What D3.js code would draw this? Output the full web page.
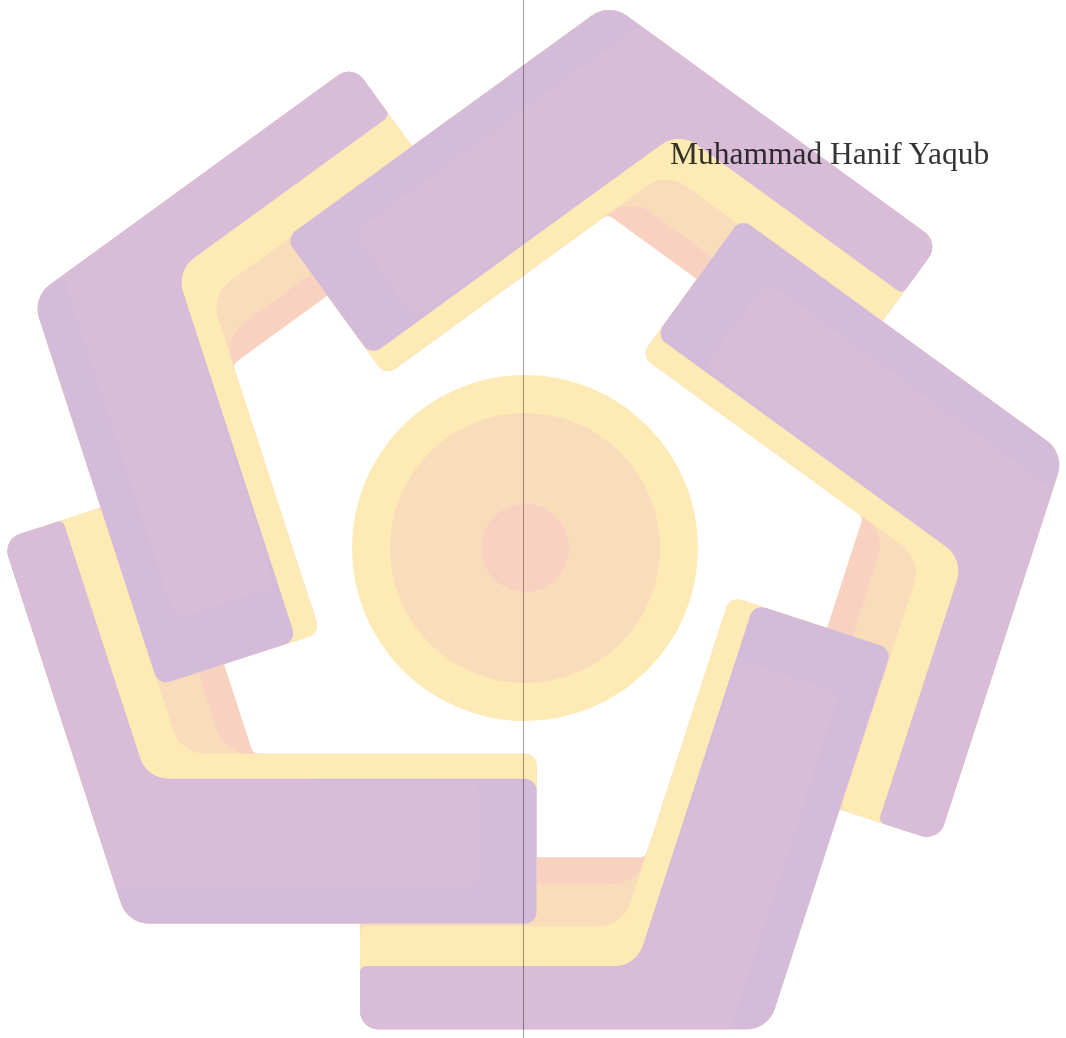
<!DOCTYPE html>
<html><head><meta charset="utf-8">
<script src="https://cdn.jsdelivr.net/npm/d3@7"></script>
<style>html,body{margin:0;padding:0;background:#fff;overflow:hidden}</style>
</head><body>
<svg id="c" width="1066" height="1038"></svg>
<script>
// ---- data ----
const arms = [0, 1, 2, 3, 4];
const armShiftX = [0, 3, 0, -7, -4];
const armShiftY = [0, -5, 0, -3, 5];
const armShortLen = [400, 400, 400, 409, 408];
const armLongLen = [408, 408, 408, 404, 396];
const bands = ["salmon", "peach", "yellow", "purple"];
const bandShortDepth = [170, 170, 170, 145];
const bandLongDepth = [172, 145, 103, 63];
const bandInnerRadius = [8, 34, 34, 30];
const bandColors = ["#f8d1c1", "#f9dcba", "#fdeab5", "#d3bbd9"];
const sheenColor = "#d9bdd8";
const rings = ["outer", "middle", "core"];
const ringRadii = [173, 135, 44];
const ringColors = ["#fdeab5", "#f9dcba", "#f8d1c1"];
const label = "Muhammad Hanif Yaqub";

// ---- layout ----
const W = 1066, H = 1038;
const PC = [522, 542], R = 546, A0 = -80.8;   // pentagon centre, vertex radius, first vertex angle
const RC = [525, 548];                        // centre of the rings
const svg = d3.select("#c");
const defs = svg.append("defs");

const rad = d => d * Math.PI / 180;
const dir = a => [Math.cos(rad(a)), Math.sin(rad(a))];
const add = (...vs) => vs.reduce((s, v) => [s[0] + v[0], s[1] + v[1]], [0, 0]);
const mul = (v, k) => [v[0] * k, v[1] * k];

const angleScale = d3.scaleLinear().domain([0, 5]).range([0, 360]);
const colorScale = d3.scaleOrdinal().domain(bands).range(bandColors);
const ringColor = d3.scaleOrdinal().domain(rings).range(ringColors);

// base arm geometry (top arm); the others are rotations of it
const V = add(PC, mul(dir(A0), R));
const bis = 90;
const us = dir(bis + 54), ul = dir(bis - 54);
const ns = [us[1], -us[0]], nl = [-ul[1], ul[0]];
const bdir = dir(bis);
const mside = [bdir[1], -bdir[0]];
function inner(ds, dl) {
  const rx = dl * nl[0] - ds * ns[0], ry = dl * nl[1] - ds * ns[1];
  const det = us[0] * (-ul[1]) - (-ul[0]) * us[1];
  const a = (rx * (-ul[1]) - (-ul[0]) * ry) / det;
  return add(V, mul(ns, ds), mul(us, a));
}
function roundPath(pts, radii) {
  const p = d3.path(), n = pts.length;
  const l = pts[n - 1], f = pts[0];
  p.moveTo((l[0] + f[0]) / 2, (l[1] + f[1]) / 2);
  for (let i = 0; i < n; i++) {
    const a = pts[i], b = pts[(i + 1) % n];
    p.arcTo(a[0], a[1], b[0], b[1], radii[i]);
  }
  p.closePath();
  return p.toString();
}
function bandPath(i, k) {
  const ds = bandShortDepth[i], dl = bandLongDepth[i];
  const A = add(V, mul(us, armShortLen[k])), B = add(A, mul(ns, ds));
  const I = inner(ds, dl);
  const E = add(V, mul(ul, armLongLen[k])), D = add(E, mul(nl, dl));
  return roundPath([A, B, I, D, E, V], [12, 12, bandInnerRadius[i], 6, 18, 30]);
}
function sheenPath(k) {
  const ds = bandShortDepth[3], dl = bandLongDepth[3];
  const E = add(V, mul(ul, armLongLen[k])), D = add(E, mul(nl, dl));
  const I = inner(ds, dl);
  const B2 = add(V, mul(us, armShortLen[k] - 58), mul(ns, ds - 4));
  const C2 = add(V, mul(us, armShortLen[k] - 58), mul(ns, 36));
  const F = add(V, mul(ul, 36 / 0.951));
  return roundPath([E, D, I, B2, C2, F], [18, 6, bandInnerRadius[3], 10, 14, 2]);
}
// half-plane clip on the short-leg side of the first arm's bisector (pixel-aligned edge)
const P = (t, s) => add(V, mul(bdir, t), mul(mside, s));
const edge = Math.ceil(V[0]) + 2 - V[0];
defs.append("clipPath").attr("id", "clipShort").append("polygon")
  .attr("points", [P(-3000, edge), P(3000, edge), P(3000, -3000), P(-3000, -3000)].map(p => p.join(",")).join(" "));

// ---- centre rings ----
svg.append("g").selectAll("circle").data(rings).join("circle")
  .attr("cx", RC[0]).attr("cy", RC[1])
  .attr("r", (d, i) => ringRadii[i])
  .attr("fill", d => ringColor(d));

// ---- arms ----
function drawArm(parent, k, clip) {
  let g = parent.append("g")
    .attr("transform", `translate(${armShiftX[k]},${armShiftY[k]}) rotate(${angleScale(k)},${PC[0]},${PC[1]})`);
  if (clip) g = g.append("g").attr("clip-path", `url(#${clip})`);
  g.selectAll("path.band").data(bands).join("path").attr("class", "band")
    .attr("d", (d, i) => bandPath(i, k))
    .attr("fill", d => colorScale(d));
  g.append("path").attr("d", sheenPath(k)).attr("fill", sheenColor);
}
const armLayer = svg.append("g");
arms.forEach(k => drawArm(armLayer, k, null));
// the first arm's short leg lies over the last arm (cyclic overlap)
drawArm(armLayer, arms[0], "clipShort");

// ---- line and text (multiplied over the logo) ----
svg.append("line").attr("x1", 523.5).attr("x2", 523.5).attr("y1", 0).attr("y2", H)
  .attr("stroke", "#a3a3a3").attr("stroke-width", 1.1).style("mix-blend-mode", "multiply");
svg.append("text").attr("x", 670).attr("y", 164)
  .attr("font-family", "'Liberation Serif','Times New Roman',serif").attr("font-size", 31.5)
  .attr("fill", "#353535").style("mix-blend-mode", "multiply").text(label);
</script>
</body></html>
